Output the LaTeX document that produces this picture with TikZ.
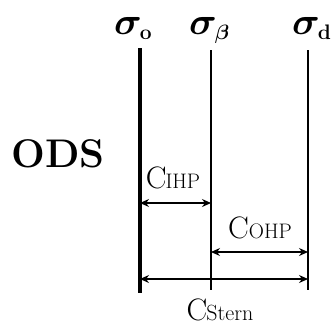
\documentclass[tikz,border=0pt]{standalone}
\usepackage{amsmath}
\usepackage{graphicx}
\usetikzlibrary{arrows.meta}
\newcommand{\sigl}[1]{\scalebox{1.85}{\fontsize{20}{20}\selectfont\boldmath$\sigma$}\hspace{-2pt}\raisebox{-5pt}{\fontsize{21}{21}\selectfont\bfseries\boldmath #1}}
\begin{document}
\begin{tikzpicture}[x=1pt,y=-1pt,
  thinplane/.style={line width=1.2pt},
  dim/.style={line width=1.2pt,{Stealth[length=9pt,width=8pt]}-{Stealth[length=9pt,width=8pt]}},
  sig/.style={anchor=base west,inner sep=0pt},
  caplabel/.style={font=\fontsize{31}{32}\selectfont,anchor=base,inner sep=0pt}]
\useasboundingbox (0,0) rectangle (335,330);
% planes
\coordinate (o1) at (140,48); \coordinate (o2) at (140,293);
\coordinate (b1) at (211,50); \coordinate (b2) at (211,290);
\coordinate (d1) at (308,50); \coordinate (d2) at (308,290);
\draw[line width=4pt] (o1) -- (o2);
\draw[thinplane] (b1) -- (b2);
\draw[thinplane] (d1) -- (d2);
% labels
\node[sig] (so) at (114,34) {\sigl{o}};
\node[sig] (sb) at (189,34) {\sigl{$\beta$}};
\node[sig] (sd) at (292,34) {\sigl{d}};
\node[font=\fontsize{40}{42}\selectfont\bfseries] (ods) at (58,154) {ODS};
% dimension arrows
\coordinate (i1) at (140,203); \coordinate (i2) at (211,203);
\coordinate (h1) at (211,252); \coordinate (h2) at (308,252);
\coordinate (s1) at (140,279); \coordinate (s2) at (308,279);
\draw[dim] (i1) -- (i2);
\draw[dim] (h1) -- (h2);
\draw[dim] (s1) -- (s2);
\node[caplabel] (cihp) at (173,188) {C\hspace{-1pt}{\fontsize{21}{22}\selectfont IHP}};
\node[caplabel] (cohp) at (260,238) {C{\fontsize{21}{22}\selectfont OHP}};
\node[caplabel] (cst) at (220,320) {C\hspace{-1pt}{\fontsize{22}{22}\selectfont Stern}};
\end{tikzpicture}
\end{document}
